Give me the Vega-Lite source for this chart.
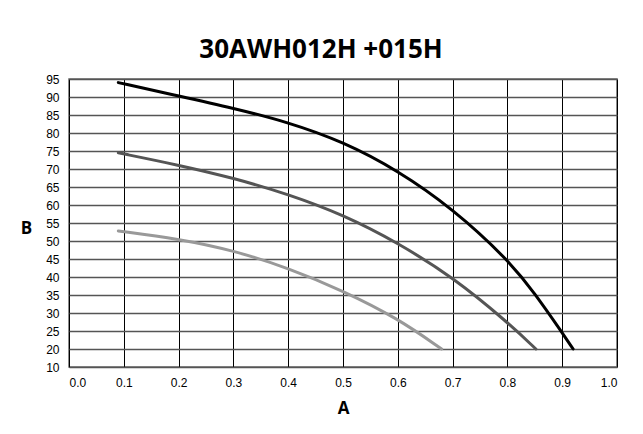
{
  "$schema": "https://vega.github.io/schema/vega-lite/v6.json",
  "width": 548,
  "height": 288,
  "autosize": {"type": "none"},
  "padding": {"left": 69, "top": 79, "right": 26, "bottom": 67},
  "background": "white",
  "title": {
    "text": "30AWH012H +015H",
    "font": "Open Sans",
    "fontWeight": "bold",
    "fontSize": 26,
    "color": "#000",
    "anchor": "middle",
    "baseline": "alphabetic",
    "offset": 18,
    "dy": 29,
    "dx": -22
  },
  "data": {
    "values": [
      {"series": "s1", "a": 0.09, "b": 94},
      {"series": "s1", "a": 0.2, "b": 90.3},
      {"series": "s1", "a": 0.3, "b": 86.9},
      {"series": "s1", "a": 0.4, "b": 83},
      {"series": "s1", "a": 0.5, "b": 77.6},
      {"series": "s1", "a": 0.6, "b": 69.6},
      {"series": "s1", "a": 0.7, "b": 59},
      {"series": "s1", "a": 0.8, "b": 45},
      {"series": "s1", "a": 0.85, "b": 35.5},
      {"series": "s1", "a": 0.9, "b": 24.5},
      {"series": "s1", "a": 0.92, "b": 20},
      {"series": "s2", "a": 0.09, "b": 74.5},
      {"series": "s2", "a": 0.2, "b": 71.1},
      {"series": "s2", "a": 0.3, "b": 67.5},
      {"series": "s2", "a": 0.4, "b": 63},
      {"series": "s2", "a": 0.5, "b": 57.3},
      {"series": "s2", "a": 0.6, "b": 49.5},
      {"series": "s2", "a": 0.7, "b": 40},
      {"series": "s2", "a": 0.8, "b": 27.5},
      {"series": "s2", "a": 0.852, "b": 20},
      {"series": "s3", "a": 0.09, "b": 52.8},
      {"series": "s3", "a": 0.2, "b": 50.6},
      {"series": "s3", "a": 0.3, "b": 47.4},
      {"series": "s3", "a": 0.4, "b": 42.5},
      {"series": "s3", "a": 0.5, "b": 36.2},
      {"series": "s3", "a": 0.6, "b": 28.5},
      {"series": "s3", "a": 0.68, "b": 20}
    ]
  },
  "mark": {"type": "line", "interpolate": "basis", "strokeWidth": 3, "strokeCap": "round"},
  "encoding": {
    "x": {
      "field": "a",
      "type": "quantitative",
      "scale": {"domain": [0, 1], "nice": false, "zero": false},
      "axis": {
        "values": [0, 0.1, 0.2, 0.3, 0.4, 0.5, 0.6, 0.7, 0.8, 0.9, 1.0],
        "format": ".1f",
        "title": "A",
        "titleFont": "Open Sans",
        "titleFontWeight": "bold",
        "titleFontSize": 17,
        "titleColor": "#000",
        "titlePadding": 12,
        "labelFont": "Liberation Sans",
        "labelFontSize": 12,
        "labelColor": "#000",
        "labelPadding": 10,
        "ticks": false,
        "domain": false,
        "grid": true,
        "gridColor": "#000",
        "gridWidth": 1,
        "gridOpacity": 1
      }
    },
    "y": {
      "field": "b",
      "type": "quantitative",
      "scale": {"domain": [15, 95], "nice": false, "zero": false},
      "axis": {
        "values": [15, 20, 25, 30, 35, 40, 45, 50, 55, 60, 65, 70, 75, 80, 85, 90, 95],
        "labelExpr": "datum.value == 15 ? '10' : datum.label",
        "title": "B",
        "titleAngle": 0,
        "titleFont": "Open Sans",
        "titleFontWeight": "bold",
        "titleFontSize": 17,
        "titleColor": "#000",
        "titleAlign": "center",
        "titleBaseline": "middle",
        "titleX": -43,
        "titleY": 149,
        "labelFont": "Liberation Sans",
        "labelFontSize": 12,
        "labelColor": "#000",
        "labelPadding": 10,
        "ticks": false,
        "domain": false,
        "grid": true,
        "gridColor": "#555",
        "gridWidth": 1.5,
        "gridOpacity": 1
      }
    },
    "color": {
      "field": "series",
      "type": "nominal",
      "scale": {"domain": ["s1", "s2", "s3"], "range": ["#000000", "#555555", "#999999"]},
      "legend": null
    }
  },
  "config": {
    "view": {"stroke": "#666", "strokeWidth": 1.5}
  }
}
